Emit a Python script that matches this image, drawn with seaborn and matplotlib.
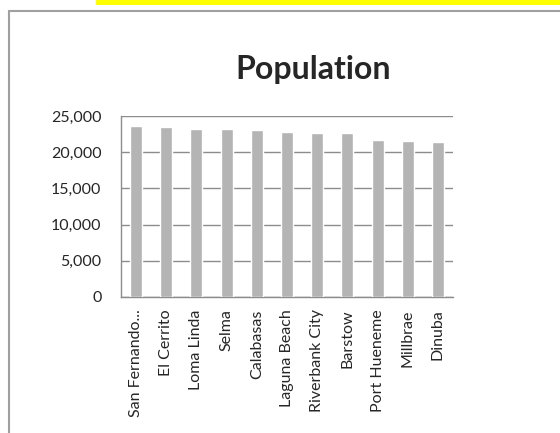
import matplotlib
matplotlib.use("Agg")
import matplotlib.pyplot as plt
import seaborn as sns
import pandas as pd
from matplotlib.lines import Line2D
from matplotlib.patches import Rectangle
from matplotlib.ticker import FuncFormatter, FixedLocator

# data
cities = ["San Fernando...", "El Cerrito", "Loma Linda", "Selma", "Calabasas",
          "Laguna Beach", "Riverbank City", "Barstow", "Port Hueneme", "Millbrae", "Dinuba"]
population = [23645, 23549, 23261, 23219, 23058, 22723, 22678, 22639, 21723, 21532, 21453]
y_ticks = [0, 5000, 10000, 15000, 20000, 25000]

sns.set_style("white")
plt.rcParams['font.family'] = ['Lato', 'DejaVu Sans']

W, H = 560, 433
fig = plt.figure(figsize=(W / 100, H / 100), dpi=100)
ax = fig.add_axes([121 / W, (H - 297) / H, (453 - 121) / W, (297 - 116) / H])

df = pd.DataFrame({"city": cities, "population": population})
sns.barplot(data=df, x="city", y="population", color="#b4b4b4", saturation=1,
            width=0.4, ax=ax, zorder=3)

ax.set_ylim(0, 25000)
ax.set_xlim(-0.5, len(cities) - 0.5)
ax.yaxis.set_major_locator(FixedLocator(y_ticks))
ax.yaxis.set_major_formatter(FuncFormatter(lambda v, p: f"{int(v):,}"))
ax.grid(axis="y", color="#8c8c8c", linewidth=1, zorder=0)
ax.set_xlabel("")
ax.set_ylabel("")

# category ticks sit between the bars
ax.set_xticks([i - 0.5 for i in range(len(cities) + 1)], minor=True)
ax.tick_params(axis="x", which="major", length=0, pad=9, labelsize=11.5, rotation=90)
ax.tick_params(axis="x", which="minor", length=5, color="#8c8c8c", width=1, direction="out")
ax.tick_params(axis="y", length=5, color="#8c8c8c", width=1, direction="out", labelsize=11.5, pad=9)

for side in ["top", "right"]:
    ax.spines[side].set_visible(False)
for side in ["left", "bottom"]:
    ax.spines[side].set_color("#8c8c8c")
    ax.spines[side].set_linewidth(1)

fig.text(313 / W, 1 - 69 / H, "Population", ha="center", va="center",
         fontsize=23, fontweight="bold")

# outer chart frame and the yellow strip above it
fig.add_artist(Line2D([8.5 / W, 8.5 / W], [0, 1 - 10.5 / H], color="#a0a0a0", linewidth=1.5))
fig.add_artist(Line2D([8.5 / W, 1], [1 - 10.5 / H, 1 - 10.5 / H], color="#a0a0a0", linewidth=1.5))
fig.add_artist(Rectangle((96 / W, 1 - 5 / H), 1, 5 / H, transform=fig.transFigure,
                         color="#ffff00", linewidth=0))

fig.savefig("out.png", dpi=100)
